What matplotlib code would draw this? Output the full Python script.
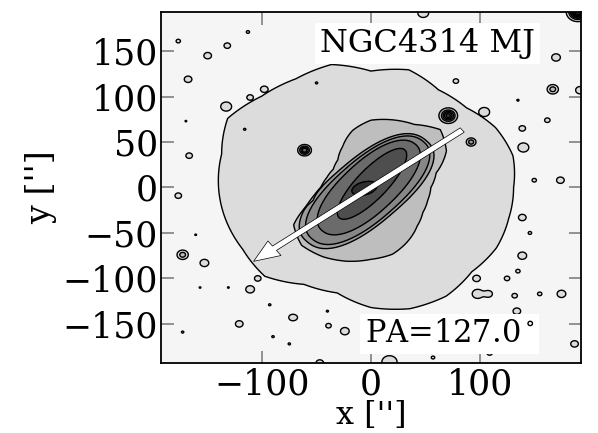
"""
Contour map of NGC4314 (MJ band) with the bar position-angle arrow.
Isophotes are rebuilt from shapes read off the original figure.
Writes out.png.
"""
import numpy as np
import matplotlib

matplotlib.use("Agg")
import matplotlib.pyplot as plt

GALAXY = "NGC4314 MJ"
PA = 127.0
ARROW_FROM, ARROW_TO = 105.0, -135.0   # arcsec along the PA line

# outer (disk) and lens isophotes: radius ["] every 15 deg of polar angle
iso_angle = np.arange(0, 360, 15)
disk_radius = [131, 135, 132, 124, 124, 134, 128, 140, 138, 142, 152, 142,
               140, 138, 136, 138, 123, 120, 132, 138, 138, 131, 133, 131]
lens_radius = [55, 62, 80, 90, 80, 77, 74, 65, 52, 43, 40, 42,
               46, 55, 82, 90, 88, 84, 79, 76, 68, 60, 55, 54]

# bar isophotes, outer to inner: centre, semi-axes, angle, boxiness
bar_x0 = [-4, -3, -2, 1, -6]
bar_y0 = [-4, -3, 0, 4, -1]
bar_a = [78, 74, 64, 48, 12]
bar_b = [34, 31, 26, 15, 7]
bar_ang = [46, 47, 49, 52, 20]
bar_box = [2.4, 2.3, 2.2, 2.0, 2.0]

# stars: position, peak (in contour steps), size
star_x = [-61, 71, 190, 167, -173, 92]
star_y = [41, 79, 193, 108, -74, 50]
star_peak = [4.5, 5.0, 8, 2.2, 2.2, 2.2]
star_size = [3.0, 4.0, 4.5, 3.0, 3.0, 2.6]

# faint noise islands outside the disk: position, radius
speck_x = [-177, -113, -132, -150, -168, -133, -111, -98, -167, -170,
           -177, -161, -153, -111, -104, -86, -76, -121, -173, -93,
           -90, -75, -72, -131, -157, 78, 170, 162, 139, 135,
           108, 104, 140, 150, 174, 139, 146, 139, 135, 125,
           97, 98, 108, 132, 155, 175, 134, 139, 187, 109,
           57, 17, 70, -24, -39, -40, -70, -47, 48, 29,
           -53, 192]
speck_y = [161, 171, 156, 145, 119, 89, 99, 108, 35, 73,
           -9, -52, -83, -112, -100, -94, -98, -150, -159, -129,
           -164, -172, -143, -110, -110, 117, 143, 74, 65, 96,
           53, 83, 44, 8, 8, -33, -50, -75, -92, -100,
           -100, -117, -117, -119, -117, -117, -136, -154, -172, -182,
           -187, -192, -143, -158, -152, -136, -143, -193, 192, -125,
           -105, 107]
speck_r = [2.0, 1.5, 3.0, 3.5, 3.5, 5, 3.0, 3.5, 3, 0.8,
           3, 0.8, 4, 4, 3.0, 3.0, 2.5, 3.5, 1.1, 1.1,
           1.1, 1.1, 3.5, 0.8, 0.8, 2.5, 4, 2.5, 3.0, 1.0,
           2.5, 5, 5, 2.0, 3.5, 3.5, 1.6, 4, 2.0, 2.5,
           3.5, 5, 3.5, 2.5, 2.0, 4, 3.5, 1.6, 3.5, 2.5,
           1.6, 7, 2.5, 4, 2.5, 1.0, 1.6, 3.5, 5, 4.5,
           4.5, 4]
# tiny holes inside the disk
hole_x = [-116, -50]
hole_y = [64, 115]

level_colors = ["#f5f5f5", "#dcdcdc", "#bebebe", "#9c9c9c", "#878787",
                "#6b6b6b", "#4e4e4e", "#2e2e2e"]


def step(q):
    return 0.5 * (1 - np.tanh((q - 1) / 0.015))


x = np.linspace(-195, 195, 701)
X, Y = np.meshgrid(x, x)
R = np.hypot(X, Y)
TH = np.degrees(np.arctan2(Y, X)) % 360

disk = step(R / np.interp(TH, iso_angle, disk_radius, period=360))
specks = np.zeros_like(X)
for sx, sy, sr in zip(speck_x, speck_y, speck_r):
    s = sr / 1.18
    specks += np.exp(-((X - sx) ** 2 + (Y - sy) ** 2) / (2 * s * s))
field = np.maximum(disk, np.minimum(specks, 1.0))
for hx, hy in zip(hole_x, hole_y):
    field -= 0.9 * np.exp(-((X - hx) ** 2 + (Y - hy) ** 2) / 2.0)

field += step(R / np.interp(TH, iso_angle, lens_radius, period=360))
for x0, y0, a, b, ang, p in zip(bar_x0, bar_y0, bar_a, bar_b, bar_ang, bar_box):
    t = np.radians(ang)
    u = (X - x0) * np.cos(t) + (Y - y0) * np.sin(t)
    v = -(X - x0) * np.sin(t) + (Y - y0) * np.cos(t)
    field += step((np.abs(u / a) ** p + np.abs(v / b) ** p) ** (1 / p))
for sx, sy, pk, s in zip(star_x, star_y, star_peak, star_size):
    field += pk * np.exp(-((X - sx) ** 2 + (Y - sy) ** 2) / (2 * s * s))

plt.rcParams.update({"font.family": "DejaVu Serif",
                     "mathtext.fontset": "dejavuserif"})
fig = plt.figure(figsize=(5.98, 4.33), dpi=100)
ax = fig.add_axes([0.269, 0.1617, 0.7027, 0.8106])

lev = [-10, 0.5, 1.5, 2.5, 3.5, 4.5, 5.5, 6.5, 50]
ax.contourf(X, Y, field, levels=lev, colors=level_colors)
ax.contour(X, Y, field, levels=lev[1:-1], colors="black", linewidths=1.0)

t = np.radians(PA - 90)
sx, sy = ARROW_FROM * np.cos(t), ARROW_FROM * np.sin(t)
ex, ey = ARROW_TO * np.cos(t), ARROW_TO * np.sin(t)
ax.arrow(sx, sy, ex - sx, ey - sy, width=6, head_width=20, head_length=24,
         length_includes_head=True, fc="white", ec="black", lw=0.5, zorder=5)

ax.text(0.89, 0.91, GALAXY, transform=ax.transAxes, ha="right", va="center",
        fontsize=23, zorder=6,
        bbox=dict(boxstyle="square,pad=0.15", fc="white", ec="none"))
ax.text(0.89, 0.083, f"PA={PA:.1f}$^\\circ$", transform=ax.transAxes,
        ha="right", va="center", fontsize=22, zorder=6,
        bbox=dict(boxstyle="square,pad=0.15", fc="white", ec="none"))

ax.set_xlim(-193, 193)
ax.set_ylim(-193, 193)
ax.set_xticks([-100, 0, 100])
ax.set_yticks([-150, -100, -50, 0, 50, 100, 150])
ax.tick_params(direction="in", length=9, width=1.2, color="#808080",
               top=True, right=True, labelsize=25)
ax.tick_params(axis="y", pad=2)
ax.tick_params(axis="x", pad=3)
for sp in ax.spines.values():
    sp.set_linewidth(1.3)
ax.set_xlabel("x ['']", fontsize=23, labelpad=-1)
ax.set_ylabel("y ['']", fontsize=24, labelpad=4)

fig.savefig("out.png", dpi=100)
